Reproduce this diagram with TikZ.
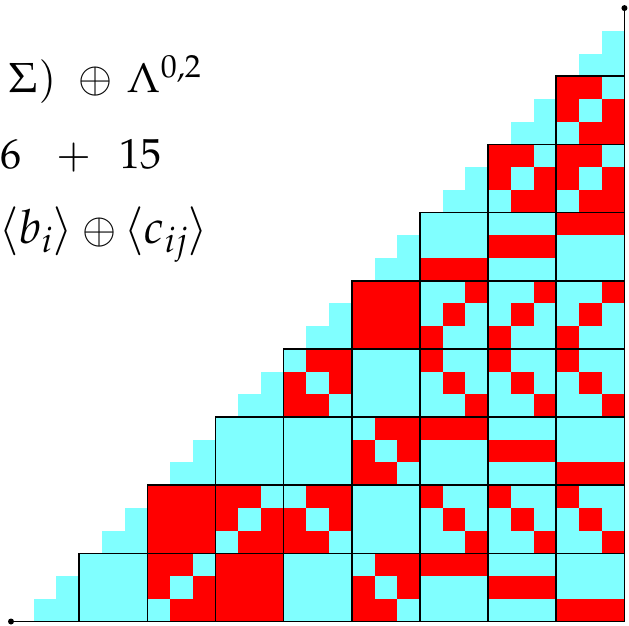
\documentclass[tikz,border=0pt]{standalone}
\usepackage{mathpazo}
\definecolor{cy}{RGB}{128,255,255}
\definecolor{rd}{RGB}{255,0,0}
\tikzset{
  txt/.style={anchor=base west, inner sep=0pt, font=\fontsize{42}{50}\selectfont},
  bigtxt/.style={anchor=base west, inner sep=0pt, font=\fontsize{47}{55}\selectfont},
  blkline/.style={draw=black, line width=1.6pt},
  axisline/.style={draw=black, line width=1.2pt},
  enddot/.style={circle, fill=black, inner sep=0pt, minimum size=6pt},
}
% red cells (u/v, v counted from the bottom) of each block pattern
\def\patA{0/1,0/2,1/0,1/2,2/0,2/1}
\def\patD{0/0,0/1,1/0,1/2,2/1,2/2}
\def\patE{0/2,1/1,2/0}
\def\patF{0/0,1/1,2/2}
\def\patHtop{0/2,1/2,2/2}
\def\patHmid{0/1,1/1,2/1}
\def\patHbot{0/0,1/0,2/0}
\newcommand\cyanblock[2]{\fill[cy] (3*#1,3*#2) rectangle ++(3,3);}
\newcommand\redblock[2]{\fill[rd] (3*#1,3*#2) rectangle ++(3,3);}
\newcommand\patblock[3]{%
  \fill[cy] (3*#1,3*#2) rectangle ++(3,3);
  \foreach \u/\v in #3 {\fill[rd] ({3*#1+\u},{3*#2+\v}) rectangle ++(1,1);}%
}
\begin{document}
\begin{tikzpicture}[x=1pt,y=-1pt]
\useasboundingbox (0,0) rectangle (629,625);

% text
\node[txt] (l1a) at (9,92.5) {$\Sigma)$};
\node[txt] (l1b) at (78,92.5) {$\oplus$};
\node[txt] (l1c) at (127,92.5) {$\Lambda^{0,2}$};
\node[txt] (l2a) at (0,168) {$6$};
\node[txt] (l2b) at (56,168) {$+$};
\node[txt] (l2c) at (119,168) {$15$};
\node[bigtxt] (l3a) at (-1,243) {$\langle b_i\rangle$};
\node[txt] (l3b) at (82,243) {$\oplus$};
\node[bigtxt] (l3c) at (124,243) {$\langle c_{ij}\rangle$};

\begin{scope}[shift={(11,621.5)}, x=22.72pt, y=22.72pt]
  % staircase
  \foreach \k in {0,...,8} {
    \fill[cy] (3*\k+1,3*\k) rectangle ++(2,1);
    \fill[cy] (3*\k+2,3*\k+1) rectangle ++(1,1);
  }
  % block row 0
  \cyanblock{1}{0}
  \patblock{2}{0}{\patA}
  \redblock{3}{0}
  \cyanblock{4}{0}
  \patblock{5}{0}{\patD}
  \patblock{6}{0}{\patHtop}
  \patblock{7}{0}{\patHmid}
  \patblock{8}{0}{\patHbot}
  % block row 1
  \redblock{2}{1}
  \patblock{3}{1}{\patA}
  \patblock{4}{1}{\patD}
  \cyanblock{5}{1}
  \patblock{6}{1}{\patE}
  \patblock{7}{1}{\patE}
  \patblock{8}{1}{\patE}
  % block row 2
  \cyanblock{3}{2}
  \cyanblock{4}{2}
  \patblock{5}{2}{\patD}
  \patblock{6}{2}{\patHtop}
  \patblock{7}{2}{\patHmid}
  \patblock{8}{2}{\patHbot}
  % block row 3
  \patblock{4}{3}{\patD}
  \cyanblock{5}{3}
  \patblock{6}{3}{\patE}
  \patblock{7}{3}{\patE}
  \patblock{8}{3}{\patE}
  % block row 4
  \redblock{5}{4}
  \patblock{6}{4}{\patF}
  \patblock{7}{4}{\patF}
  \patblock{8}{4}{\patF}
  % block row 5
  \patblock{6}{5}{\patHbot}
  \patblock{7}{5}{\patHmid}
  \patblock{8}{5}{\patHtop}
  % block row 6
  \patblock{7}{6}{\patA}
  \patblock{8}{6}{\patA}
  % block row 7
  \patblock{8}{7}{\patA}
  % block borders
  \foreach \c in {1,...,8} {
    \foreach \r in {0,...,7} {
      \ifnum\r<\c \draw[blkline] (3*\c,3*\r) rectangle ++(3,3);\fi
    }
  }
  % axes
  \node[enddot] (o) at (0,0) {};
  \node[enddot] (t) at (27,27) {};
  \coordinate (corner) at (27,0);
  \draw[axisline] (o.center) -- (corner) -- (t.center);
\end{scope}
\end{tikzpicture}
\end{document}
